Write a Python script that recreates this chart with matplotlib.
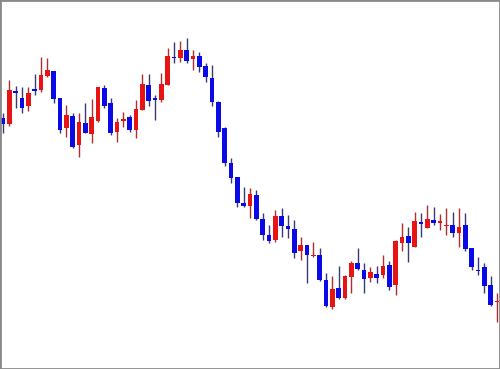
import numpy as np
import matplotlib
matplotlib.use("Agg")
import matplotlib.pyplot as plt

# candle prices (chart units, bigger = higher)
opens = [251, 245, 278, 271, 263, 280, 279, 293, 298, 271, 241, 253, 224, 246, 235, 248, 281, 266, 237, 248,
         252, 239, 259, 284, 271, 269, 284, 312, 311, 319, 310, 313, 303, 291, 267, 241, 206, 192, 166, 163,
         174, 150, 134, 129, 153, 143, 140, 118, 124, 113, 114, 89, 62, 81, 71, 92, 106, 99, 91, 95,
         94, 104, 84, 126, 133, 122, 147, 141, 149, 146, 143, 144, 136, 144, 121, 99, 102, 84, 67]
highs = [256, 289, 283, 282, 282, 295, 312, 311, 298, 271, 264, 256, 256, 266, 270, 282, 284, 271, 251, 257,
         254, 269, 295, 295, 274, 296, 321, 327, 328, 331, 319, 317, 306, 304, 268, 242, 211, 192, 182, 181,
         179, 156, 144, 159, 161, 154, 149, 132, 124, 127, 121, 96, 93, 103, 94, 108, 121, 106, 102, 103,
         114, 108, 129, 146, 142, 157, 156, 164, 162, 155, 161, 157, 161, 156, 121, 112, 106, 93, 76]
lows = [236, 243, 261, 256, 258, 274, 277, 292, 266, 236, 232, 221, 212, 236, 226, 247, 261, 234, 227, 242,
        237, 231, 259, 263, 249, 267, 284, 306, 307, 306, 299, 297, 287, 263, 232, 203, 186, 162, 162, 151,
        149, 129, 126, 127, 132, 131, 111, 109, 86, 112, 88, 62, 60, 70, 70, 76, 99, 76, 87, 86,
        91, 79, 74, 118, 107, 122, 132, 141, 144, 139, 134, 132, 122, 118, 99, 94, 76, 63, 47]
closes = [245, 279, 276, 261, 276, 278, 294, 299, 270, 239, 254, 222, 247, 236, 252, 282, 263, 236, 247, 250,
          239, 260, 285, 268, 269, 285, 313, 311, 319, 308, 313, 302, 292, 267, 237, 206, 191, 166, 163, 175,
          150, 134, 128, 153, 143, 140, 116, 124, 114, 113, 89, 63, 80, 71, 93, 106, 100, 90, 97, 91,
          103, 82, 128, 132, 126, 148, 145, 150, 146, 148, 144, 136, 142, 120, 102, 98, 83, 64, 68]

up_col, down_col = "#e81414", "#0a0ae6"
up_wick, down_wick = "#b03030", "#3a3a78"

x = np.arange(len(opens))
o = np.array(opens, float)
h = np.array(highs, float)
l = np.array(lows, float)
c = np.array(closes, float)
up = c >= o

fig = plt.figure(figsize=(5, 3.69), dpi=100)
ax = fig.add_axes([0, 0, 1, 1])

ax.vlines(x[up], l[up], h[up], color=up_wick, linewidth=1.0, zorder=1)
ax.vlines(x[~up], l[~up], h[~up], color=down_wick, linewidth=1.0, zorder=1)

body_lo = np.minimum(o, c)
body_h = np.maximum(np.abs(c - o), 1.5)
ax.bar(x[up], body_h[up], bottom=body_lo[up], width=0.78, color=up_col, linewidth=0, zorder=2)
ax.bar(x[~up], body_h[~up], bottom=body_lo[~up], width=0.78, color=down_col, linewidth=0, zorder=2)

ax.set_xlim(-0.474, len(x) - 1 + 0.474)
ax.set_ylim(0, 369)
ax.set_xticks([])
ax.set_yticks([])
for s in ax.spines.values():
    s.set_color("#8a8a8a")
    s.set_linewidth(2.0)

fig.savefig("out.png", dpi=100)
